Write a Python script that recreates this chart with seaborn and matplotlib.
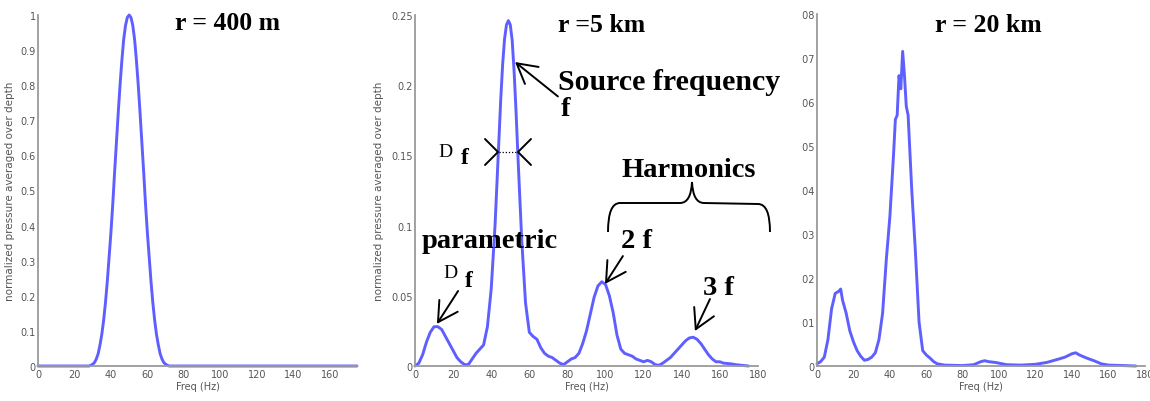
import numpy as np
import pandas as pd
import matplotlib
matplotlib.use("Agg")
import matplotlib.pyplot as plt
import seaborn as sns
from matplotlib.path import Path
from matplotlib.patches import PathPatch
from matplotlib.lines import Line2D
from matplotlib.transforms import Bbox

# ---- spectra: normalized pressure averaged over depth vs frequency (Hz) ----
freq_400m = [0, 10, 20, 28, 29, 30, 31, 32, 33, 34, 35, 36, 37, 38, 39, 40, 41, 42, 43, 44,
             45, 46, 47, 48, 49, 50, 51, 52, 53, 54, 55, 56, 57, 58, 59, 60, 61, 62, 63, 64,
             65, 66, 67, 68, 69, 70, 71, 72, 80, 100, 120, 140, 160, 175]
p_400m = [0, 0, 0, 0, 0.002, 0.005, 0.01, 0.02, 0.035, 0.06, 0.09, 0.13, 0.18, 0.24, 0.31,
          0.38, 0.46, 0.55, 0.635, 0.72, 0.80, 0.87, 0.93, 0.97, 0.993, 1.0, 0.993, 0.97,
          0.93, 0.87, 0.80, 0.72, 0.635, 0.55, 0.46, 0.38, 0.31, 0.24, 0.18, 0.13, 0.09,
          0.06, 0.035, 0.02, 0.01, 0.005, 0.002, 0, 0, 0, 0, 0, 0, 0]

freq_5km = [0, 2, 4, 6, 8, 10, 12, 14, 16, 18, 20, 22, 24, 26, 28, 30, 32, 34, 36, 38,
            40, 42, 44, 45, 46, 47, 48, 49, 50, 51, 52, 53, 54, 56, 58, 60, 62, 64, 66, 68,
            70, 72, 74, 76, 78, 80, 82, 84, 86, 88, 90, 92, 94, 96, 98, 100, 102, 104, 106,
            108, 110, 112, 114, 116, 118, 120, 122, 124, 126, 128, 130, 132, 134, 136, 138,
            140, 142, 144, 146, 148, 150, 152, 154, 156, 158, 160, 162, 164, 166, 168, 170,
            172, 175]
p_5km = [0.0, 0.002, 0.008, 0.017, 0.024, 0.028, 0.028, 0.026, 0.021, 0.016, 0.011, 0.006,
         0.003, 0.001, 0.001, 0.005, 0.009, 0.012, 0.015, 0.028, 0.055, 0.10, 0.16, 0.19,
         0.215, 0.233, 0.243, 0.246, 0.243, 0.232, 0.21, 0.182, 0.15, 0.09, 0.045, 0.024,
         0.021, 0.019, 0.013, 0.009, 0.007, 0.006, 0.004, 0.002, 0.001, 0.003, 0.005, 0.006,
         0.009, 0.016, 0.025, 0.037, 0.049, 0.057, 0.060, 0.058, 0.05, 0.038, 0.022, 0.012,
         0.009, 0.008, 0.007, 0.005, 0.004, 0.003, 0.004, 0.003, 0.001, 0.0005, 0.002, 0.004,
         0.006, 0.009, 0.012, 0.015, 0.018, 0.020, 0.0205, 0.019, 0.016, 0.012, 0.008, 0.005,
         0.003, 0.003, 0.002, 0.0018, 0.0015, 0.001, 0.0007, 0.0004, 0.0]

freq_20km = [0, 2, 4, 6, 8, 10, 12, 13, 14, 16, 18, 20, 22, 24, 26, 28, 30, 32, 34, 36, 38,
             40, 42, 43, 44, 45, 46, 47, 48, 49, 50, 52, 54, 56, 58, 60, 62, 64, 66, 70, 80,
             86, 90, 92, 94, 98, 104, 112, 120, 126, 132, 136, 140, 142, 144, 148, 152, 156,
             160, 168, 175]
p_20km = [0.0005, 0.001, 0.002, 0.006, 0.013, 0.0165, 0.017, 0.0175, 0.015, 0.012, 0.008,
          0.0055, 0.0035, 0.0022, 0.0013, 0.0015, 0.002, 0.003, 0.006, 0.012, 0.024, 0.034,
          0.048, 0.056, 0.057, 0.066, 0.063, 0.0715, 0.066, 0.059, 0.057, 0.040, 0.026, 0.010,
          0.0035, 0.0025, 0.0018, 0.001, 0.0005, 0.0002, 0.0001, 0.0003, 0.001, 0.0012, 0.001,
          0.0008, 0.0003, 0.0002, 0.0004, 0.0008, 0.0015, 0.002, 0.0028, 0.003, 0.0025,
          0.0018, 0.0012, 0.0005, 0.0002, 0.0001, 0.0]

# ---- axis ticks ----
xticks_a = [0, 20, 40, 60, 80, 100, 120, 140, 160]
xticks_bc = [0, 20, 40, 60, 80, 100, 120, 140, 160, 180]
yticks_400m = [0, 0.1, 0.2, 0.3, 0.4, 0.5, 0.6, 0.7, 0.8, 0.9, 1]
ylabels_400m = ["0", "0.1", "0.2", "0.3", "0.4", "0.5", "0.6", "0.7", "0.8", "0.9", "1"]
yticks_5km = [0, 0.05, 0.1, 0.15, 0.2, 0.25]
ylabels_5km = ["0", "0.05", "0.1", "0.15", "0.2", "0.25"]
yticks_20km = [0, 0.01, 0.02, 0.03, 0.04, 0.05, 0.06, 0.07, 0.08]
ylabels_20km = ["0", "0.01", "0.02", "0.03", "0.04", "0.05", "0.06", "0.07", "0.08"]

panel_titles = ["r = 400 m", "r =5 km", "r = 20 km"]
xlabel = "Freq (Hz)"
ylabel = "normalized pressure averaged over depth"

sns.set_theme(style="white")
plt.rcParams["font.family"] = ["DejaVu Sans"]
plt.rcParams["text.color"] = "black"

W, H = 1150, 402
fig = plt.figure(figsize=(W / 100, H / 100), dpi=100)
fig.patch.set_facecolor("white")


def fx(x):
    return x / W


def fy(y):
    return 1 - y / H


def add_axes(left, right, top, bottom):
    return fig.add_axes([fx(left), fy(bottom), fx(right - left), (bottom - top) / H])


ax1 = add_axes(38, 357, 16, 367)
ax2 = add_axes(415, 758, 16, 367)
ax3 = add_axes(817, 1145, 15, 367)

LINE = "#3c3cff"
GRAY_SPINE = "#9a9a9a"
GRAY_TXT = "#555555"

panels = [
    (ax1, freq_400m, p_400m, (0, 175), xticks_a, yticks_400m, ylabels_400m, (0, 1.0)),
    (ax2, freq_5km, p_5km, (0, 180), xticks_bc, yticks_5km, ylabels_5km, (0, 0.25)),
    (ax3, freq_20km, p_20km, (0, 180), xticks_bc, yticks_20km, ylabels_20km, (0, 0.08)),
]

for ax, f, p, xlim, xt, yt, yl, ylim in panels:
    df = pd.DataFrame({"freq": f, "p": p})
    sns.lineplot(data=df, x="freq", y="p", ax=ax, color=LINE, lw=2.1, alpha=0.82,
                 sort=False, clip_on=False)
    ax.set_xlim(*xlim)
    ax.set_ylim(*ylim)
    ax.set_xticks(xt)
    ax.set_xticklabels([str(v) for v in xt])
    ax.set_yticks(yt)
    ax.set_yticklabels(yl)
    for s in ("top", "right"):
        ax.spines[s].set_visible(False)
    for s in ("left", "bottom"):
        ax.spines[s].set_color(GRAY_SPINE)
        ax.spines[s].set_linewidth(1.3)
    ax.tick_params(direction="in", length=3, width=0.8, color="#8a8a8a",
                   labelsize=7, labelcolor=GRAY_TXT, pad=2.5)
    ax.tick_params(axis="y", pad=1.5)
    ax.set_xlabel(xlabel, fontsize=7, color=GRAY_TXT, labelpad=1)
    ax.set_ylabel("")
    ax.set_facecolor("none")
    ax.grid(False)

ax1.set_ylabel(ylabel, fontsize=7.5, color=GRAY_TXT, labelpad=4)
ax2.set_ylabel(ylabel, fontsize=7.5, color=GRAY_TXT, labelpad=5)

# ---- panel headings ----
serif = ["Liberation Serif", "DejaVu Serif"]
head_kw = dict(family=serif, weight="bold", fontsize=18.5, va="baseline", ha="left",
               color="black")
fig.text(fx(175), fy(30), panel_titles[0], **head_kw)
fig.text(fx(558), fy(32), panel_titles[1], **head_kw)
fig.text(fx(935), fy(32), panel_titles[2], **head_kw)

# ---- annotations on the 5 km spectrum ----
big_kw = dict(family=serif, weight="bold", fontsize=20.5, va="baseline", ha="left",
              color="black")
fig.text(fx(558), fy(90), "Source frequency", **dict(big_kw, fontsize=21.5))
fig.text(fx(561), fy(116), "f", **big_kw)
fig.text(fx(622), fy(177), "Harmonics", **big_kw)
fig.text(fx(422), fy(248), "parametric", **big_kw)
fig.text(fx(621), fy(248), "2 f", **big_kw)
fig.text(fx(703), fy(295), "3 f", **big_kw)

# bandwidth symbols
fig.text(fx(438), fy(157), "D", family=serif, fontsize=14, va="baseline", ha="left",
         color="black")
fig.text(fx(461), fy(164), "f", family=serif, weight="bold", fontsize=17,
         va="baseline", ha="left", color="black")
fig.text(fx(443), fy(278), "D", family=serif, fontsize=14, va="baseline", ha="left",
         color="black")
fig.text(fx(465), fy(287), "f", family=serif, weight="bold", fontsize=17,
         va="baseline", ha="left", color="black")

arrow_kw = dict(arrowstyle="->,head_length=0.5,head_width=0.28", lw=1.4, color="black",
                mutation_scale=28, shrinkA=0, shrinkB=0)
ax2.annotate("", xy=(52.5, 0.2165), xytext=(75.0, 0.192), arrowprops=arrow_kw,
             annotation_clip=False)
ax2.annotate("", xy=(11.5, 0.030), xytext=(22.6, 0.0534), arrowprops=arrow_kw,
             annotation_clip=False)
ax2.annotate("", xy=(99.7, 0.0584), xytext=(109.1, 0.0783), arrowprops=arrow_kw,
             annotation_clip=False)
ax2.annotate("", xy=(146.9, 0.0249), xytext=(154.8, 0.0477), arrowprops=arrow_kw,
             annotation_clip=False)


def fig_line(xs, ys, **kw):
    fig.add_artist(Line2D([fx(x) for x in xs], [fy(y) for y in ys],
                          transform=fig.transFigure, **kw))


# width markers  > ... <
fig_line([485, 498, 485], [140, 153, 166], color="black", lw=1.4)
fig_line([531, 518, 531], [140, 153, 166], color="black", lw=1.4)
fig_line([499, 517], [153, 153], color="black", lw=0.9, ls=(0, (1, 1.5)))

# curly brace over the harmonics
verts = [(608, 233), (608, 204), (620, 204), (680, 204), (691, 204), (692, 183),
         (693, 204), (704, 204), (758, 205), (770, 205), (770, 233)]
codes = [Path.MOVETO, Path.CURVE3, Path.CURVE3, Path.LINETO, Path.CURVE3, Path.CURVE3,
         Path.CURVE3, Path.CURVE3, Path.LINETO, Path.CURVE3, Path.CURVE3]
brace = Path([(fx(x), fy(y)) for x, y in verts], codes)
fig.add_artist(PathPatch(brace, transform=fig.transFigure, fill=False, lw=1.4,
                         edgecolor="black"))

# the right panel's tick labels are cut at the panel's left border
fig.canvas.draw()
for lbl in ax3.get_yticklabels():
    lbl.set_clip_box(Bbox.from_extents(801, 0, W, H))
    lbl.set_clip_on(True)

fig.savefig("out.png", dpi=100, facecolor="white")
